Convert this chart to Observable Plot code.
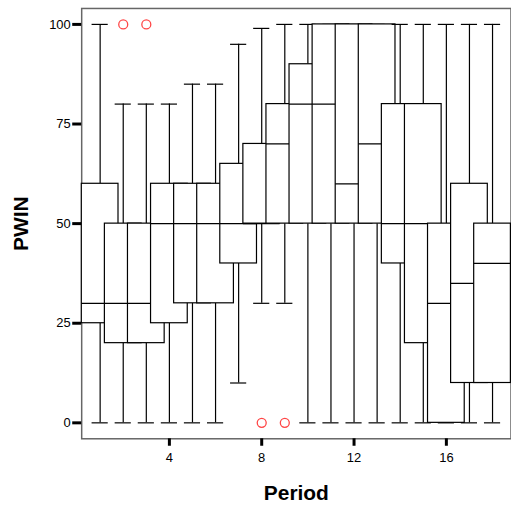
<!DOCTYPE html>
<html>
<head>
<meta charset="utf-8">
<script src="https://cdn.jsdelivr.net/npm/d3@7"></script>
<script src="https://cdn.jsdelivr.net/npm/@observablehq/plot@0.6"></script>
<style>
html, body { margin: 0; padding: 0; background: #fff; overflow: hidden; }
</style>
</head>
<body>
<div id="chart"></div>
<script>
// Box plot statistics of PWIN per Period
const periods     = [1, 2, 3, 4, 5, 6, 7, 8, 9, 10, 11, 12, 13, 14, 15, 16, 17, 18];
const lowWhisker  = [0, 0, 0, 0, 0, 0, 10, 30, 30, 0, 0, 0, 0, 0, 0, 0, 0, 0];
const q1          = [25, 20, 20, 25, 30, 30, 40, 50, 50, 50, 50, 50, 50, 40, 20, 0, 10, 10];
const median      = [30, 30, 30, 50, 50, 50, 50, 50, 70, 80, 80, 60, 70, 50, 50, 30, 35, 40];
const q3          = [60, 50, 50, 60, 60, 60, 65, 70, 80, 90, 100, 100, 100, 80, 80, 50, 60, 50];
const highWhisker = [100, 80, 80, 80, 85, 85, 95, 99, 100, 100, 100, 100, 100, 100, 100, 100, 100, 100];

const outlierPeriods = [2, 3, 8, 9];
const outlierValues  = [100, 100, 0, 0];

const xTicks = [4, 8, 12, 16];
const yTicks = [0, 25, 50, 75, 100];

const data = periods.map((p, i) => ({
  period: p, lo: lowWhisker[i], q1: q1[i], med: median[i], q3: q3[i], hi: highWhisker[i]
}));
const outliers = outlierPeriods.map((p, i) => ({period: p, value: outlierValues[i]}));

const boxHalf = 0.795;
const capHalf = 0.35;
const line = {stroke: "black", strokeWidth: 1.2};

const marks = [Plot.frame({stroke: "#666", strokeWidth: 1.5})];

data.forEach(d => {
  const one = [d];
  marks.push(
    Plot.ruleX(one, {x: "period", y1: "lo", y2: "q1", ...line}),
    Plot.ruleX(one, {x: "period", y1: "q3", y2: "hi", ...line}),
    Plot.ruleY(one, {y: "lo", x1: v => v.period - capHalf, x2: v => v.period + capHalf, ...line}),
    Plot.ruleY(one, {y: "hi", x1: v => v.period - capHalf, x2: v => v.period + capHalf, ...line}),
    Plot.rect(one, {x1: v => v.period - boxHalf, x2: v => v.period + boxHalf, y1: "q1", y2: "q3", fill: "white", ...line}),
    Plot.ruleY(one, {y: "med", x1: v => v.period - boxHalf, x2: v => v.period + boxHalf, ...line})
  );
});

marks.push(
  Plot.dot(outliers, {x: "period", y: "value", r: 4.5, stroke: "#ff4646", strokeWidth: 1.3, fill: "none"}),
  Plot.axisX({ticks: xTicks, tickSize: 7.5, tickPadding: 7, fontSize: 13, strokeWidth: 3, label: null}),
  Plot.axisY({ticks: yTicks, tickSize: 9, tickPadding: 2, fontSize: 13, strokeWidth: 3, label: null}),
  Plot.text(["PWIN"], {text: d => d, frameAnchor: "left", dx: -61, rotate: -90, fontSize: 21, fontWeight: "bold", textAnchor: "middle", lineAnchor: "middle"}),
  Plot.text(["Period"], {text: d => d, frameAnchor: "bottom", dy: 55, fontSize: 21, fontWeight: "bold", textAnchor: "middle", lineAnchor: "middle"})
);

const chart = Plot.plot({
  width: 513,
  height: 512,
  marginLeft: 81.5,
  marginRight: 0.5,
  marginTop: 8,
  marginBottom: 72,
  style: {fontFamily: "'Liberation Sans', Arial, sans-serif", background: "white", color: "black"},
  x: {domain: [0.2, 18.8]},
  y: {domain: [-4, 104]},
  marks
});
document.getElementById("chart").appendChild(chart);
</script>
</body>
</html>
